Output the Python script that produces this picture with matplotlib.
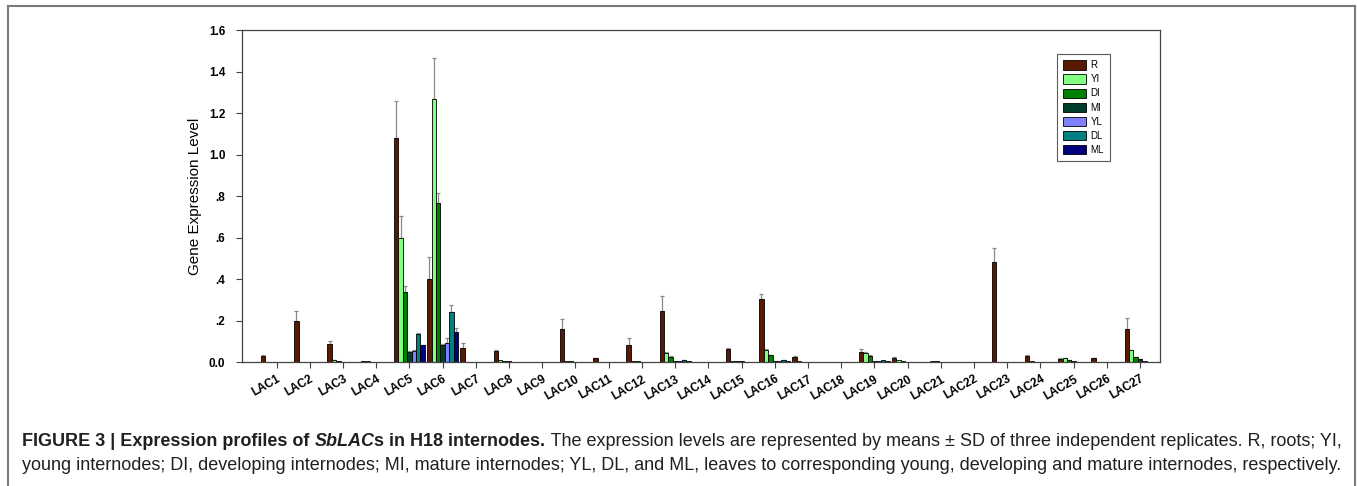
import matplotlib
matplotlib.use("Agg")
import matplotlib.pyplot as plt
from matplotlib.lines import Line2D
import numpy as np

plt.rcParams['font.family'] = ['Liberation Sans', 'DejaVu Sans']

genes = ["LAC%d" % i for i in range(1, 28)]
series = ["R", "YI", "DI", "MI", "YL", "DL", "ML"]
colors = ["#5a1a02", "#80ff80", "#008000", "#003c2c", "#8080ff", "#008080", "#000080"]

R  = [0.030, 0.198, 0.085, 0.005, 1.080, 0.400, 0.068, 0.053, 0.000, 0.158, 0.019, 0.084, 0.248, 0.000,
      0.061, 0.304, 0.024, 0.000, 0.048, 0.021, 0.002, 0.000, 0.482, 0.027, 0.016, 0.019, 0.161]
YI = [0.001, 0.001, 0.010, 0.003, 0.600, 1.268, 0.001, 0.008, 0.001, 0.004, 0.002, 0.004, 0.043, 0.001,
      0.007, 0.058, 0.004, 0.001, 0.043, 0.008, 0.003, 0.000, 0.002, 0.003, 0.018, 0.001, 0.056]
DI = [0.001, 0.001, 0.005, 0.002, 0.335, 0.768, 0.001, 0.006, 0.001, 0.003, 0.002, 0.004, 0.024, 0.001,
      0.006, 0.032, 0.002, 0.001, 0.031, 0.005, 0.003, 0.000, 0.001, 0.002, 0.010, 0.001, 0.023]
MI = [0.001, 0.001, 0.002, 0.001, 0.048, 0.080, 0.000, 0.003, 0.001, 0.002, 0.001, 0.002, 0.004, 0.001,
      0.004, 0.003, 0.002, 0.001, 0.005, 0.002, 0.002, 0.000, 0.001, 0.001, 0.003, 0.001, 0.013]
YL = [0.000, 0.000, 0.001, 0.000, 0.055, 0.093, 0.000, 0.002, 0.000, 0.001, 0.001, 0.001, 0.005, 0.001,
      0.002, 0.004, 0.001, 0.000, 0.005, 0.002, 0.001, 0.000, 0.000, 0.001, 0.002, 0.002, 0.003]
DL = [0.000, 0.000, 0.001, 0.000, 0.133, 0.240, 0.000, 0.002, 0.000, 0.001, 0.001, 0.001, 0.008, 0.001,
      0.002, 0.010, 0.002, 0.000, 0.008, 0.001, 0.001, 0.000, 0.000, 0.001, 0.002, 0.002, 0.002]
ML = [0.000, 0.000, 0.001, 0.000, 0.080, 0.143, 0.000, 0.001, 0.000, 0.001, 0.000, 0.001, 0.006, 0.000,
      0.001, 0.006, 0.001, 0.000, 0.006, 0.001, 0.000, 0.000, 0.000, 0.000, 0.001, 0.001, 0.001]

R_err  = [0.004, 0.048, 0.015, 0.000, 0.180, 0.105, 0.025, 0.005, 0.000, 0.051, 0.002, 0.034, 0.072, 0.000,
          0.005, 0.026, 0.004, 0.000, 0.017, 0.004, 0.000, 0.000, 0.066, 0.008, 0.004, 0.002, 0.051]
YI_err = [0, 0, 0.002, 0, 0.105, 0.195, 0, 0, 0, 0, 0, 0, 0.007, 0, 0, 0.006, 0, 0, 0.007, 0, 0, 0, 0, 0, 0.003, 0, 0.004]
DI_err = [0, 0, 0, 0, 0.030, 0.045, 0, 0, 0, 0, 0, 0, 0.004, 0, 0, 0.003, 0, 0, 0.003, 0, 0, 0, 0, 0, 0.002, 0, 0.003]
MI_err = [0, 0, 0, 0, 0.003, 0.005, 0, 0, 0, 0, 0, 0, 0, 0, 0, 0, 0, 0, 0, 0, 0, 0, 0, 0, 0, 0, 0.002]
YL_err = [0, 0, 0, 0, 0.005, 0.022, 0, 0, 0, 0, 0, 0, 0, 0, 0, 0, 0, 0, 0, 0, 0, 0, 0, 0, 0, 0, 0]
DL_err = [0, 0, 0, 0, 0.008, 0.037, 0, 0, 0, 0, 0, 0, 0.002, 0, 0, 0.002, 0, 0, 0, 0, 0, 0, 0, 0, 0, 0, 0]
ML_err = [0, 0, 0, 0, 0.003, 0.022, 0, 0, 0, 0, 0, 0, 0, 0, 0, 0, 0, 0, 0, 0, 0, 0, 0, 0, 0, 0, 0]

values = [R, YI, DI, MI, YL, DL, ML]
errors = [R_err, YI_err, DI_err, MI_err, YL_err, DL_err, ML_err]

yticks = [0.0, 0.2, 0.4, 0.6, 0.8, 1.0, 1.2, 1.4, 1.6]
ytick_labels = ["0.0", ".2", ".4", ".6", ".8", "1.0", "1.2", "1.4", "1.6"]

W, H = 1357, 486
fig = plt.figure(figsize=(W / 100, H / 100), dpi=100)

ax = fig.add_axes([242 / W, 1 - 362 / H, (1160 - 242) / W, (362 - 30) / H])

x = np.arange(len(genes))
nb = len(series)
bw = 0.935 / nb
for k, (name, vals, errs, col) in enumerate(zip(series, values, errors, colors)):
    pos = x - 0.935 / 2 + bw * (k + 0.5)
    ax.bar(pos, vals, width=bw, color=col, edgecolor="black", linewidth=0.6, label=name, zorder=2)
    errs = np.array(errs)
    m = errs > 0
    ax.errorbar(pos[m], np.array(vals)[m], yerr=[np.zeros(m.sum()), errs[m]], fmt="none",
                ecolor="#8a8a8a", elinewidth=0.9, capsize=1.3, capthick=0.9, zorder=1)

ax.set_xlim(-1.04, 26.6)
ax.set_ylim(0, 1.6)
ax.set_yticks(yticks)
ax.set_yticklabels(ytick_labels, fontsize=8.5, fontweight="bold")
ax.set_xticks(x)
ax.set_xticklabels(genes, fontsize=8.5, fontweight="bold", rotation=30, ha="right",
                   rotation_mode="anchor")
ax.tick_params(axis="both", direction="out", length=4, width=0.8, color="#444444")
ax.tick_params(axis="y", pad=8)
ax.tick_params(axis="x", pad=4)
for s in ax.spines.values():
    s.set_linewidth(0.9)
    s.set_color("#444444")
ax.set_ylabel("Gene Expression Level", fontsize=11, labelpad=5)

leg = ax.legend(loc="upper left", bbox_to_anchor=(1057 / W, 1 - 54 / H),
                bbox_transform=fig.transFigure, fontsize=7, frameon=True, fancybox=False,
                handlelength=2.3, handleheight=1.1, labelspacing=0.42, borderpad=0.65,
                handletextpad=0.5, borderaxespad=0)
leg.get_frame().set_edgecolor("#333333")
leg.get_frame().set_linewidth(0.8)

# outer frame
fc = "#7a7a7a"
fig.add_artist(Line2D([7.5 / W, 7.5 / W], [0, 1 - 6 / H], transform=fig.transFigure, color=fc, lw=1.5))
fig.add_artist(Line2D([7.5 / W, 1355 / W], [1 - 6 / H, 1 - 6 / H], transform=fig.transFigure, color=fc, lw=1.5))
fig.add_artist(Line2D([1355 / W, 1355 / W], [0, 1 - 6 / H], transform=fig.transFigure, color=fc, lw=1.5))

# caption
line1 = [("FIGURE 3 | Expression profiles of ", "bold", "normal"),
         ("SbLAC", "bold", "italic"),
         ("s in H18 internodes.", "bold", "normal"),
         (" The expression levels are represented by means \u00b1 SD of three independent replicates. R, roots; YI,", "normal", "normal")]
line2 = [("young internodes; DI, developing internodes; MI, mature internodes; YL, DL, and ML, leaves to corresponding young, developing and mature internodes, respectively.", "normal", "normal")]

renderer = fig.canvas.get_renderer()


def draw_line(pieces, x0, yc, size, color="#231f20"):
    xx = x0
    arts = []
    for txt, wgt, sty in pieces:
        t = fig.text(xx / W, 1 - yc / H, txt, fontsize=size, fontweight=wgt, fontstyle=sty,
                     va="center", ha="left", color=color)
        bb = t.get_window_extent(renderer=renderer)
        xx += bb.width
        arts.append(t)
    return arts, xx


def fit_line(pieces, x0, x1, yc, size0):
    arts, xe = draw_line(pieces, x0, yc, size0)
    for a in arts:
        a.remove()
    size = size0 * (x1 - x0) / (xe - x0)
    draw_line(pieces, x0, yc, size)


fit_line(line1, 22, 1345, 441, 10)
fit_line(line2, 22, 1342, 465, 10)

fig.savefig("out.png", dpi=100)
